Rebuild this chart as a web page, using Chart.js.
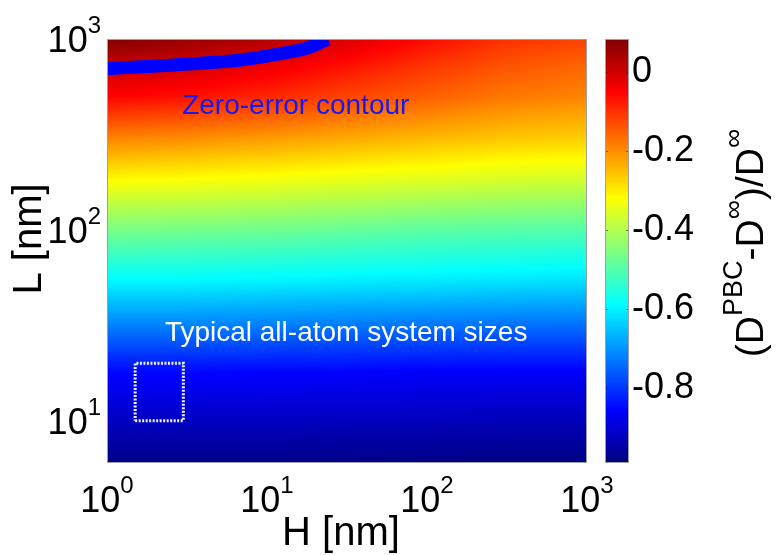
<!DOCTYPE html>
<html>
<head>
<meta charset="utf-8">
<script src="https://cdn.jsdelivr.net/npm/chart.js@4.4.0/dist/chart.umd.min.js"></script>
<style>
  html, body { margin: 0; padding: 0; background: #fff; }
  canvas { display: block; }
</style>
</head>
<body>
<canvas id="chart" width="778" height="555"></canvas>
<script>
// grid of the relative error (D_PBC - D_inf)/D_inf
const hGrid = [1, 3, 10, 30, 100, 300, 1000];               // H [nm], columns
const lGrid = [6, 10, 18, 30, 55, 100, 180, 300, 500, 700, 1000]; // L [nm], rows
const errRows = [
  [-0.98, -0.98, -0.98, -0.98, -0.985, -0.985, -0.985],   // L = 6
  [-0.92, -0.92, -0.92, -0.925, -0.925, -0.93, -0.93],    // L = 10
  [-0.85, -0.85, -0.855, -0.855, -0.86, -0.86, -0.86],    // L = 18
  [-0.73, -0.73, -0.735, -0.74, -0.745, -0.75, -0.75],    // L = 30
  [-0.59, -0.59, -0.595, -0.60, -0.605, -0.61, -0.615],   // L = 55
  [-0.46, -0.465, -0.47, -0.48, -0.49, -0.495, -0.50],    // L = 100
  [-0.32, -0.325, -0.335, -0.345, -0.355, -0.365, -0.37], // L = 180
  [-0.19, -0.20, -0.215, -0.23, -0.245, -0.26, -0.27],    // L = 300
  [-0.05, -0.065, -0.09, -0.12, -0.15, -0.175, -0.19],    // L = 500
  [0.0, -0.01, -0.035, -0.07, -0.11, -0.14, -0.16],       // L = 700
  [0.084, 0.06, 0.03, -0.01, -0.06, -0.10, -0.12]         // L = 1000
];

// zero-error contour
const contourH = [1, 2.66, 6.9, 14, 18.6, 24];
const contourL = [700, 731, 776, 855, 908, 1000];

// typical all-atom system sizes box
const boxH = [1.5, 3, 3, 1.5, 1.5];
const boxL = [10, 10, 20, 20, 10];

const xTicks = [1, 10, 100, 1000];
const yTicks = [10, 100, 1000];
const cbTicks = [-0.8, -0.6, -0.4, -0.2, 0];
const cbRange = [-0.99, 0.084];

const zeroLabelAt = [2.95, 405];
const typicalLabelAt = [2.3, 26];

const FONT = "'Liberation Sans', Arial, sans-serif";
Chart.defaults.font.family = FONT;

function jet(t) {
  t = Math.min(1, Math.max(0, t));
  const c = v => Math.round(255 * Math.min(1, Math.max(0, v)));
  return [c(1.5 - Math.abs(4 * t - 3)), c(1.5 - Math.abs(4 * t - 2)), c(1.5 - Math.abs(4 * t - 1))];
}

const logH = hGrid.map(Math.log10);
const logL = lGrid.map(Math.log10);

function cellIndex(arr, v) {
  let i = 0;
  while (i < arr.length - 2 && v > arr[i + 1]) i++;
  const f = Math.min(1, Math.max(0, (v - arr[i]) / (arr[i + 1] - arr[i])));
  return [i, f];
}

// shading between the grid values, like shading interp
function errAt(H, L) {
  const [i, fx] = cellIndex(logH, Math.log10(H));
  const [j, fy] = cellIndex(logL, Math.log10(L));
  const a = errRows[j][i], b = errRows[j][i + 1];
  const c = errRows[j + 1][i], d = errRows[j + 1][i + 1];
  return (a * (1 - fx) + b * fx) * (1 - fy) + (c * (1 - fx) + d * fx) * fy;
}

function drawPow(ctx, v, x, base, align) {
  const e = String(Math.round(Math.log10(v)));
  ctx.font = `36px ${FONT}`;
  const w1 = ctx.measureText('10').width;
  ctx.font = `24px ${FONT}`;
  const w2 = ctx.measureText(e).width;
  const x0 = align === 'center' ? x - (w1 + w2) / 2 : x - w1 - w2;
  ctx.font = `36px ${FONT}`;
  ctx.fillText('10', x0, base);
  ctx.font = `24px ${FONT}`;
  ctx.fillText(e, x0 + w1, base - 19);
}

const heatmapPlugin = {
  id: 'heatmap',
  beforeDatasetsDraw(chart) {
    const { ctx, chartArea: a, scales: { x, y, cb } } = chart;
    const w = Math.round(a.right - a.left), h = Math.round(a.bottom - a.top);
    const off = document.createElement('canvas');
    off.width = w; off.height = h;
    const octx = off.getContext('2d');
    const img = octx.createImageData(w, h);
    for (let j = 0; j < h; j++) {
      const L = y.getValueForPixel(a.top + j + 0.5);
      for (let i = 0; i < w; i++) {
        const H = x.getValueForPixel(a.left + i + 0.5);
        const col = jet((errAt(H, L) - cb.min) / (cb.max - cb.min));
        const k = (j * w + i) * 4;
        img.data[k] = col[0]; img.data[k + 1] = col[1]; img.data[k + 2] = col[2]; img.data[k + 3] = 255;
      }
    }
    octx.putImageData(img, 0, 0);
    ctx.drawImage(off, a.left, a.top);

    // colour bar
    const bx = a.right + 18, bw = 24;
    for (let py = Math.round(cb.top); py < Math.round(cb.bottom); py++) {
      const col = jet((cb.getValueForPixel(py + 0.5) - cb.min) / (cb.max - cb.min));
      ctx.fillStyle = `rgb(${col[0]},${col[1]},${col[2]})`;
      ctx.fillRect(bx, py, bw, 1);
    }
    ctx.save();
    ctx.strokeStyle = 'rgba(40,40,40,0.6)';
    ctx.lineWidth = 1;
    cbTicks.forEach(v => {
      const py = Math.round(cb.getPixelForValue(v)) + 0.5;
      ctx.beginPath();
      ctx.moveTo(bx, py); ctx.lineTo(bx + 3, py);
      ctx.moveTo(bx + bw - 3, py); ctx.lineTo(bx + bw, py);
      ctx.stroke();
    });
    ctx.strokeStyle = '#a0a0a0';
    ctx.strokeRect(bx + 0.5, Math.round(cb.top) + 0.5, bw - 1, Math.round(cb.bottom - cb.top) - 1);
    ctx.restore();
  },
  afterDatasetsDraw(chart) {
    const { ctx, chartArea: a, scales: { x, y } } = chart;
    ctx.save();
    ctx.textAlign = 'left';
    ctx.textBaseline = 'alphabetic';
    ctx.font = `28px ${FONT}`;
    ctx.fillStyle = 'rgb(25,25,235)';
    ctx.fillText('Zero-error contour', x.getPixelForValue(zeroLabelAt[0]), y.getPixelForValue(zeroLabelAt[1]));
    ctx.fillStyle = '#ffffff';
    ctx.fillText('Typical all-atom system sizes', x.getPixelForValue(typicalLabelAt[0]), y.getPixelForValue(typicalLabelAt[1]));
    ctx.strokeStyle = '#a0a0a0';
    ctx.lineWidth = 1;
    ctx.strokeRect(a.left + 0.5, a.top + 0.5, a.right - a.left - 1, a.bottom - a.top - 1);
    ctx.restore();
  },
  afterDraw(chart) {
    const { ctx, chartArea: a, scales: { x, y } } = chart;
    ctx.save();
    ctx.fillStyle = '#000';
    ctx.textAlign = 'left';
    ctx.textBaseline = 'alphabetic';
    xTicks.forEach(v => drawPow(ctx, v, x.getPixelForValue(v), a.bottom + 49, 'center'));
    yTicks.forEach(v => drawPow(ctx, v, a.left - 6, y.getPixelForValue(v) + 13, 'right'));

    // axis titles
    ctx.font = `40px ${FONT}`;
    ctx.textAlign = 'center';
    ctx.fillText('H [nm]', (a.left + a.right) / 2 - 6, a.bottom + 82);
    ctx.save();
    ctx.translate(a.left - 66, (a.top + a.bottom) / 2 - 12);
    ctx.rotate(-Math.PI / 2);
    ctx.fillText('L [nm]', 0, 0);
    ctx.restore();

    // colour bar label with superscripts
    ctx.textAlign = 'left';
    const parts = [['(D', 0], ['PBC', 1], ['-D', 0], ['\u221E', 1], [')/D', 0], ['\u221E', 1]];
    const mainF = `39px ${FONT}`, supF = `27px ${FONT}`;
    let total = 0;
    parts.forEach(p => { ctx.font = p[1] ? supF : mainF; total += ctx.measureText(p[0]).width; });
    ctx.translate(763, (a.top + a.bottom) / 2 - 8);
    ctx.rotate(-Math.PI / 2);
    let px = -total / 2;
    parts.forEach(p => {
      ctx.font = p[1] ? supF : mainF;
      ctx.fillText(p[0], px, p[1] ? -21 : 0);
      px += ctx.measureText(p[0]).width;
    });
    ctx.restore();
  }
};

new Chart(document.getElementById('chart'), {
  type: 'scatter',
  data: {
    datasets: [
      {
        label: 'Zero-error contour',
        data: contourH.map((h, i) => ({ x: h, y: contourL[i] })),
        showLine: true,
        borderColor: '#0000ff',
        borderWidth: 13,
        pointRadius: 0,
        tension: 0.3,
        clip: 0
      },
      {
        label: 'Typical all-atom system sizes',
        data: boxH.map((h, i) => ({ x: h, y: boxL[i] })),
        showLine: true,
        borderColor: 'rgba(255,255,255,0.95)',
        borderWidth: 3,
        borderDash: [2, 1.5],
        pointRadius: 0,
        clip: 0
      }
    ]
  },
  options: {
    responsive: false,
    animation: false,
    events: [],
    layout: { padding: { top: 39, left: 0, right: 0, bottom: 0 } },
    plugins: { legend: { display: false }, tooltip: { enabled: false } },
    scales: {
      x: {
        type: 'logarithmic',
        min: 1, max: 1000,
        grid: { display: false },
        border: { display: false },
        ticks: { display: false },
        afterBuildTicks: s => { s.ticks = xTicks.map(v => ({ value: v })); },
        afterFit: s => { s.height = 92; s.paddingLeft = 0; s.paddingRight = 0; }
      },
      y: {
        type: 'logarithmic',
        min: 6, max: 1000,
        grid: { display: false },
        border: { display: false },
        ticks: { display: false },
        afterBuildTicks: s => { s.ticks = yTicks.map(v => ({ value: v })); },
        afterFit: s => { s.width = 107; s.paddingTop = 0; s.paddingBottom = 0; }
      },
      cb: {
        type: 'linear',
        position: 'right',
        min: cbRange[0], max: cbRange[1],
        grid: { display: false, drawTicks: false },
        border: { display: false },
        ticks: {
          color: '#000',
          font: { size: 36 },
          padding: 45,
          callback: v => (v === 0 ? '0' : v.toFixed(1))
        },
        afterBuildTicks: s => { s.ticks = cbTicks.map(v => ({ value: v })); },
        afterFit: s => { s.width = 191; s.paddingTop = 0; s.paddingBottom = 0; }
      }
    }
  },
  plugins: [heatmapPlugin]
});
</script>
</body>
</html>
